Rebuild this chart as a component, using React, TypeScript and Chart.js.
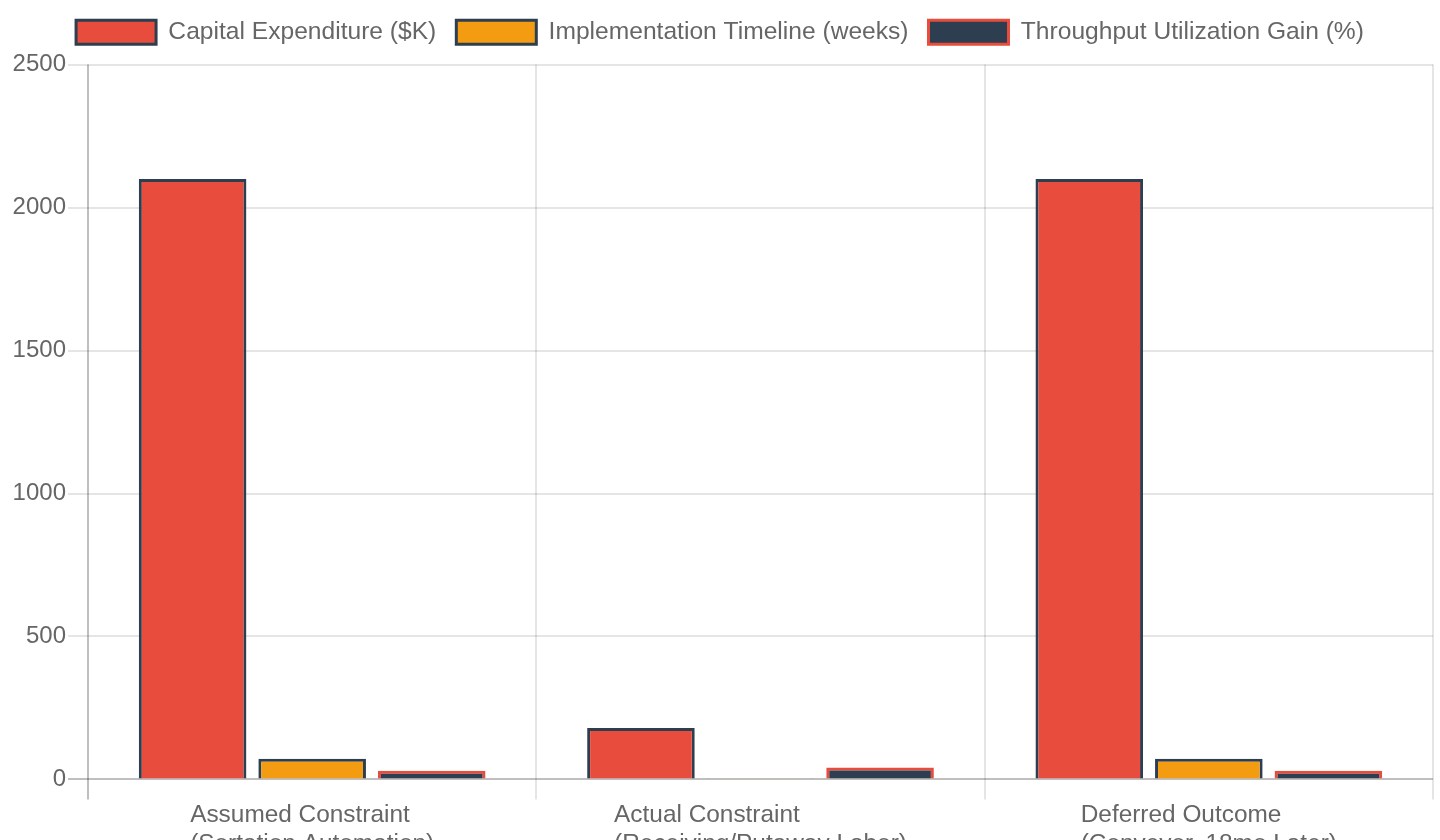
import React, { useEffect, useRef } from "react";
import { Chart, registerables } from "chart.js";

Chart.register(...registerables);

const categories: string[][] = [
  ["Assumed Constraint", "(Sortation Automation)"],
  ["Actual Constraint", "(Receiving/Putaway Labor)"],
  ["Deferred Outcome", "(Conveyor, 18mo Later)"],
];
const capexValues = [2100, 180, 2100];
const timelineValues = [72, 2, 72];
const gainValues = [30, 42, 30];
const yTicks = [0, 500, 1000, 1500, 2000, 2500];

const RED = "#e74c3c";
const ORANGE = "#f39c12";
const DARK = "#2c3e50";
const FONT = "'Liberation Sans', Arial, Helvetica, sans-serif";
const XFONT_SIZE = 24.4;

const legendSpacer = {
  id: "legendSpacer",
  beforeInit(chart: any) {
    const legend = chart.legend;
    if (!legend) return;
    const origFit = legend.fit;
    legend.fit = function () {
      origFit.call(this);
      this.height += 10;
    };
  },
};

// Draws multi-line category labels as a left-aligned block centred under each category
const blockLabels = {
  id: "blockLabels",
  afterDraw(chart: any) {
    const xs = chart.scales.x;
    const ctx = chart.ctx;
    ctx.save();
    ctx.font = `${XFONT_SIZE}px ${FONT}`;
    ctx.fillStyle = "#666";
    ctx.textAlign = "left";
    ctx.textBaseline = "middle";
    const lh = XFONT_SIZE * 1.2;
    const y0 = xs.top + 20 + 1;
    categories.forEach((lines, i) => {
      const cx = xs.getPixelForTick(i);
      const maxW = Math.max(...lines.map((l) => ctx.measureText(l).width));
      const left = cx - maxW / 2;
      lines.forEach((l, j) => {
        ctx.fillText(l, left, y0 + lh / 2 + j * lh);
      });
    });
    ctx.restore();
  },
};

export default function App() {
  const ref = useRef<HTMLCanvasElement | null>(null);
  useEffect(() => {
    if (!ref.current) return;
    const gridColor = (ctx: any) =>
      ctx.index === 0 ? "rgba(0,0,0,0.25)" : "rgba(0,0,0,0.1)";
    const chart = new Chart(ref.current, {
      type: "bar",
      data: {
        labels: categories,
        datasets: [
          {
            label: "Capital Expenditure ($K)",
            data: capexValues,
            backgroundColor: RED,
            borderColor: DARK,
            borderWidth: 3,
          },
          {
            label: "Implementation Timeline (weeks)",
            data: timelineValues,
            backgroundColor: ORANGE,
            borderColor: DARK,
            borderWidth: 3,
          },
          {
            label: "Throughput Utilization Gain (%)",
            data: gainValues,
            backgroundColor: DARK,
            borderColor: RED,
            borderWidth: 3,
          },
        ],
      },
      plugins: [legendSpacer, blockLabels],
      options: {
        animation: false,
        responsive: true,
        maintainAspectRatio: false,
        layout: { padding: { left: 7, right: 7, top: 0, bottom: 0 } },
        font: { family: FONT, size: 24 },
        color: "#666",
        plugins: {
          legend: {
            position: "top",
            labels: {
              boxWidth: 80,
              boxHeight: 24,
              padding: 20,
              color: "#666",
              font: { family: FONT, size: 24.6 },
            },
          },
          tooltip: { enabled: false },
        },
        scales: {
          x: {
            grid: {
              color: gridColor,
              lineWidth: 2,
              tickLength: 20,
              offset: true,
            },
            border: { display: false },
            ticks: {
              color: "rgba(0,0,0,0)",
              font: { family: FONT, size: XFONT_SIZE },
              padding: 2,
              maxRotation: 0,
            },
          },
          y: {
            min: 0,
            max: 2500,
            afterBuildTicks: (axis: any) => {
              axis.ticks = yTicks.map((v) => ({ value: v }));
            },
            afterFit: (axis: any) => {
              axis.width = 81;
            },
            grid: {
              color: gridColor,
              lineWidth: 2,
              tickLength: 20,
            },
            border: { display: false },
            ticks: {
              color: "#666",
              font: { family: FONT, size: 24 },
              padding: 2,
              callback: (v: any) => String(v),
            },
          },
        },
      },
    });
    return () => chart.destroy();
  }, []);
  return (
    <div style={{ position: "absolute", left: 0, top: 0, width: 1440, height: 862 }}>
      <canvas ref={ref} />
    </div>
  );
}
